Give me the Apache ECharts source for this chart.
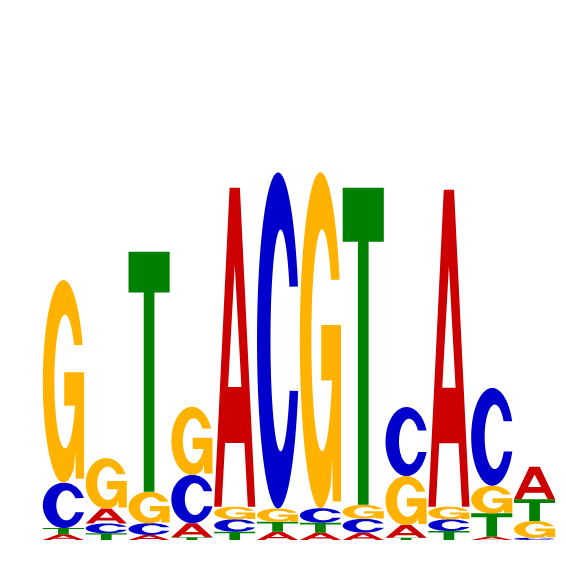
<!DOCTYPE html>
<html>
<head>
<meta charset="utf-8">
<script src="https://cdn.jsdelivr.net/npm/echarts@6/dist/echarts.min.js"></script>
<style>
html,body{margin:0;padding:0;background:#ffffff;}
#chart{width:566px;height:566px;}
</style>
</head>
<body>
<div id="chart"></div>
<script>
// Sequence logo data (information content in bits per letter, per position)
const positions = ['1','2','3','4','5','6','7','8','9','10','11','12'];
const letters = ['A','C','G','T'];
const A_bits = [0.025, 0.065, 0.022, 0.061, 1.386, 0.036, 0.032, 0.032, 0.055, 1.378, 0.014, 0.142];
const C_bits = [0.197, 0.043, 0.051, 0.210, 0.054, 1.461, 0.063, 0.060, 0.300, 0.051, 0.425, 0.010];
const G_bits = [0.881, 0.219, 0.137, 0.296, 0.055, 0.058, 1.461, 0.061, 0.213, 0.055, 0.120, 0.073];
const T_bits = [0.027, 0.029, 1.043, 0.012, 0.036, 0.043, 0.043, 1.378, 0.010, 0.039, 0.102, 0.094];
const letterColors = ['#CC0000', '#0000CC', '#FFB300', '#008000'];

// ---- glyph outlines (100x100 box, stretched to fit each cell) ----
function arcPts(cx, cy, rx, ry, a0, a1, n) {
  const pts = [];
  for (let k = 0; k <= n; k++) {
    const a = (a0 + (a1 - a0) * k / n) * Math.PI / 180;
    pts.push([cx + rx * Math.cos(a), cy - ry * Math.sin(a)]);
  }
  return pts;
}
function polyPath(pts) {
  return 'M' + pts.map(p => p[0].toFixed(2) + ',' + p[1].toFixed(2)).join(' L') + ' Z';
}
const glyphA = 'M0,100 L37.5,0 L62.5,0 L100,100 L81.9,100 L73.5,80 L26.5,80 L18.1,100 Z ' +
               'M50,24 L33.8,62.5 L66.2,62.5 Z';
const glyphT = 'M0,0 L100,0 L100,17 L63,17 L63,100 L37,100 L37,17 L0,17 Z';
const glyphC = polyPath(
  arcPts(50, 50, 50, 50, 18.7, 342.5, 120)
    .concat(arcPts(56, 50, 24, 33, 333, 29, 120))
);
const glyphG = polyPath(
  arcPts(50, 50, 50, 50, 21.1, 300, 120)
    .concat([[79, 85], [80, 98], [100, 98], [100, 45.5], [52, 45.5], [52, 62]])
    .concat(arcPts(54, 50, 26, 33, 338.7, 33, 120))
);
const glyphs = [glyphA, glyphC, glyphG, glyphT];

// ---- build stacked cells from the arrays ----
const bitsByLetter = [A_bits, C_bits, G_bits, T_bits];
const cells = [];
positions.forEach((p, i) => {
  const order = [0, 1, 2, 3].sort((a, b) => bitsByLetter[a][i] - bitsByLetter[b][i]);
  let base = 0;
  order.forEach(L => {
    const h = bitsByLetter[L][i];
    cells.push([i, base, base + h, L]);
    base += h;
  });
});

const chart = echarts.init(document.getElementById('chart'), null, {renderer: 'canvas'});
chart.setOption({
  backgroundColor: '#ffffff',
  animation: false,
  grid: {left: 42, right: 10, top: 80, bottom: 26},
  xAxis: {type: 'category', data: positions, show: false},
  yAxis: {type: 'value', min: 0, max: 2, show: false},
  series: [{
    type: 'custom',
    coordinateSystem: 'cartesian2d',
    encode: {x: 0, y: [1, 2]},
    data: cells,
    renderItem: function (params, api) {
      const i = api.value(0);
      const y0 = api.value(1);
      const y1 = api.value(2);
      const L = api.value(3);
      const p0 = api.coord([i, y0]);
      const p1 = api.coord([i, y1]);
      const bw = api.size([1, 0])[0] * 0.96;
      return {
        type: 'path',
        shape: {
          pathData: glyphs[L],
          x: p0[0] - bw / 2,
          y: p1[1],
          width: bw,
          height: Math.max(p0[1] - p1[1], 0.1),
          layout: 'cover'
        },
        style: {fill: letterColors[L]}
      };
    }
  }]
});
</script>
</body>
</html>
